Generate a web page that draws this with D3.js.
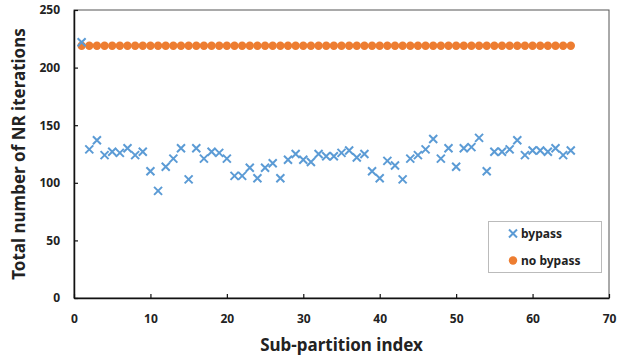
<!DOCTYPE html>
<html>
<head>
<meta charset="utf-8">
<script src="https://cdn.jsdelivr.net/npm/d3@7"></script>
<style>
  body { margin: 0; background: #fff; }
  text { font-family: "Noto Sans", "Open Sans", sans-serif; font-weight: bold; fill: #222; }
</style>
</head>
<body>
<svg id="chart" width="630" height="358"></svg>
<script>
// values
const bypass = [222, 129, 137, 124, 127, 126, 130, 124, 127, 110,
  93, 114, 121, 130, 103, 130, 121, 127, 126, 121,
  106, 106, 113, 104, 113, 117, 104, 120, 125, 120,
  118, 125, 123, 123, 126, 128, 122, 125, 110, 104,
  119, 115, 103, 121, 124, 129, 138, 121, 130, 114,
  130, 131, 139, 110, 127, 127, 129, 137, 124, 128,
  128, 127, 130, 124, 128];
const noBypass = d3.range(65).map(() => 219);
const xTicks = [0, 10, 20, 30, 40, 50, 60, 70];
const yTicks = [0, 50, 100, 150, 200, 250];
const legendNames = ["bypass", "no bypass"];

const blue = "#5B9BD5", orange = "#ED7D31";
const svg = d3.select("#chart");
const plotL = 74, plotR = 609, plotT = 10, plotB = 298;

const x = d3.scaleLinear().domain([0, 70]).range([plotL, plotR]);
const y = d3.scaleLinear().domain([0, 250]).range([plotB, plotT]);

// plot frame
svg.append("rect")
  .attr("x", plotL).attr("y", plotT)
  .attr("width", plotR - plotL).attr("height", plotB - plotT)
  .attr("fill", "none").attr("stroke", "#555").attr("stroke-width", 1);

const xAxis = svg.append("g")
  .attr("transform", `translate(0,${plotB})`)
  .call(d3.axisBottom(x).tickValues(xTicks).tickSizeInner(-4).tickSizeOuter(0).tickPadding(16));
const yAxis = svg.append("g")
  .attr("transform", `translate(${plotL},0)`)
  .call(d3.axisLeft(y).tickValues(yTicks).tickSizeInner(-4).tickSizeOuter(0).tickPadding(14));
[xAxis, yAxis].forEach(g => {
  g.select(".domain").attr("stroke", "#111").attr("stroke-width", 1.5);
  g.selectAll(".tick line").attr("stroke", "#111").attr("stroke-width", 1.2);
  g.selectAll(".tick text").style("font-size", "12px").attr("fill", "#222");
});

// no bypass dots
svg.append("g").selectAll("circle")
  .data(noBypass)
  .join("circle")
  .attr("cx", (d, i) => x(i + 1))
  .attr("cy", d => y(d))
  .attr("r", 4.2)
  .attr("fill", orange);

// bypass crosses
const s = 4;
const crossPath = `M${-s},${-s}L${s},${s}M${-s},${s}L${s},${-s}`;
svg.append("g").selectAll("path")
  .data(bypass)
  .join("path")
  .attr("d", crossPath)
  .attr("transform", (d, i) => `translate(${x(i + 1)},${y(d)})`)
  .attr("stroke", blue)
  .attr("stroke-width", 2)
  .attr("fill", "none");

// axis titles
svg.append("text")
  .attr("x", (plotL + plotR) / 2).attr("y", 351)
  .attr("text-anchor", "middle")
  .style("font-size", "17px")
  .text("Sub-partition index");
svg.append("text")
  .attr("transform", `translate(25,${(plotT + plotB) / 2}) rotate(-90)`)
  .attr("text-anchor", "middle")
  .style("font-size", "17px")
  .text("Total number of NR iterations");

// legend
const lg = svg.append("g");
lg.append("rect")
  .attr("x", 488.5).attr("y", 221.5).attr("width", 113).attr("height", 51)
  .attr("fill", "#fff").attr("stroke", "#bbb");
lg.append("path")
  .attr("d", crossPath)
  .attr("transform", "translate(513,233.5)")
  .attr("stroke", blue).attr("stroke-width", 2);
lg.append("circle").attr("cx", 513).attr("cy", 260.5).attr("r", 4.2).attr("fill", orange);
lg.selectAll("text.lab")
  .data(legendNames)
  .join("text")
  .attr("class", "lab")
  .attr("x", 521)
  .attr("y", (d, i) => 233.5 + i * 27)
  .attr("dy", "0.35em")
  .style("font-size", "12px")
  .text(d => d);
</script>
</body>
</html>
